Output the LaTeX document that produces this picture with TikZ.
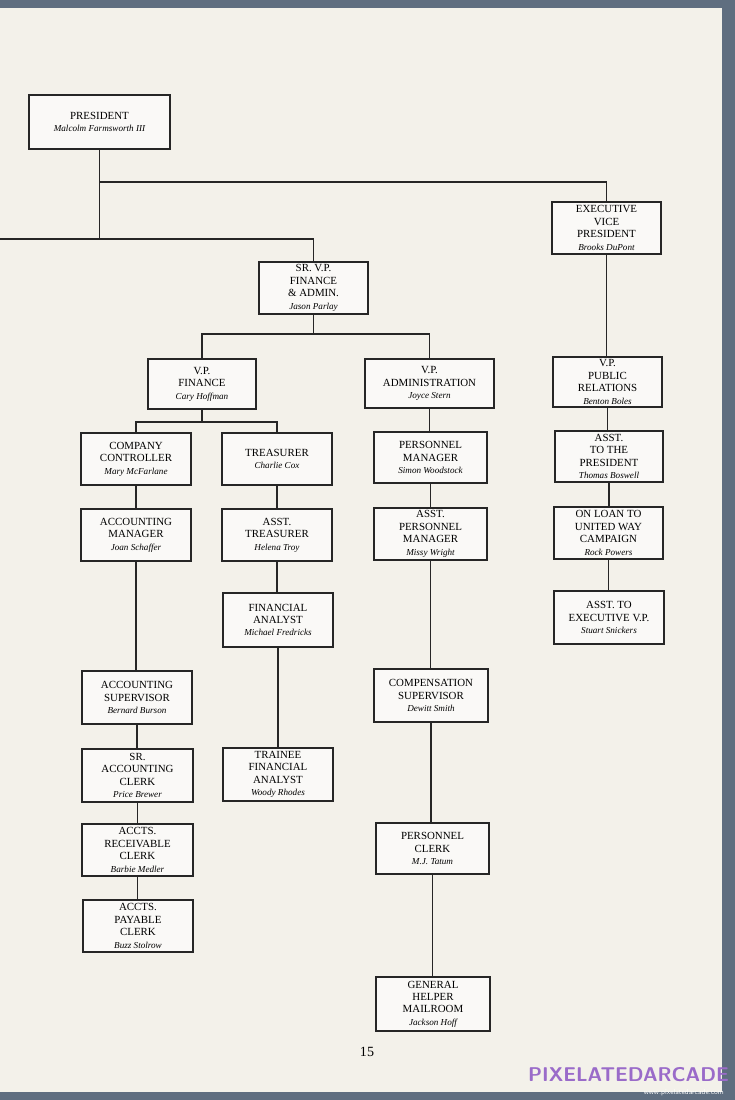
\documentclass[tikz,border=0pt]{standalone}
\usepackage{fontspec}
\setmainfont{Liberation Serif}
\newcommand{\nmf}{\fontsize{7.8}{9}\selectfont\itshape}
\begin{document}
\begin{tikzpicture}[x=0.03cm,y=-0.03cm,
  box/.style={draw=black!85,line width=1.1pt,fill=white!60!paper,align=center,inner sep=0pt,
    minimum width=#1*0.03cm,font=\fontsize{9.3}{10.6}\selectfont},
  box/.default=110,
  ln/.style={draw=black!85,line width=1pt}]
\definecolor{paper}{HTML}{F3F1EA}
\definecolor{edge}{HTML}{5F6E80}
\definecolor{wm}{HTML}{9A6BC9}
\useasboundingbox (0,0) rectangle (735,1100);
\fill[edge] (0,0) rectangle (735,1100);
\fill[paper] (0,8) rectangle (722,1092);
\newcommand{\bx}[5][110]{\node[box=#1,minimum height=#4*0.03cm] (#2) at #3 {#5};}
\newcommand{\vl}[2]{\draw[ln] (#1.south) -- (#1.south |- #2.north);}
\bx[141]{pres}{(99.5,122)}{54}{PRESIDENT\\{\nmf Malcolm Farmsworth III}}
\bx[109]{evp}{(606.5,228)}{52}{EXECUTIVE\\VICE\\PRESIDENT\\{\nmf Brooks DuPont}}
\bx[109]{svp}{(313.5,288)}{52}{SR. V.P.\\FINANCE\\\& ADMIN.\\{\nmf Jason Parlay}}
\bx[108]{vpf}{(202,384)}{50}{V.P.\\FINANCE\\{\nmf Cary Hoffman}}
\bx[129]{vpa}{(429.5,383.5)}{49}{V.P.\\ADMINISTRATION\\{\nmf Joyce Stern}}
\bx[109]{vpr}{(607.5,382)}{50}{V.P.\\PUBLIC\\RELATIONS\\{\nmf Benton Boles}}
\bx{cc}{(136,459)}{52}{COMPANY\\CONTROLLER\\{\nmf Mary McFarlane}}
\bx{tr}{(277,459)}{52}{TREASURER\\{\nmf Charlie Cox}}
\bx[113]{pm}{(430.5,457.5)}{51}{PERSONNEL\\MANAGER\\{\nmf Simon Woodstock}}
\bx[108]{atp}{(609,456.5)}{51}{ASST.\\TO THE\\PRESIDENT\\{\nmf Thomas Boswell}}
\bx{am}{(136,535)}{52}{ACCOUNTING\\MANAGER\\{\nmf Joan Schaffer}}
\bx{atr}{(277,535)}{52}{ASST.\\TREASURER\\{\nmf Helena Troy}}
\bx[113]{apm}{(430.5,534)}{52}{ASST.\\PERSONNEL\\MANAGER\\{\nmf Missy Wright}}
\bx[109]{uw}{(608.5,533)}{52}{ON LOAN TO\\UNITED WAY\\CAMPAIGN\\{\nmf Rock Powers}}
\bx{fa}{(278,620)}{54}{FINANCIAL\\ANALYST\\{\nmf Michael Fredricks}}
\bx{aev}{(609,617.5)}{53}{ASST. TO\\EXECUTIVE V.P.\\{\nmf Stuart Snickers}}
\bx{as}{(137,697.5)}{53}{ACCOUNTING\\SUPERVISOR\\{\nmf Bernard Burson}}
\bx[114]{cs}{(431,695.5)}{53}{COMPENSATION\\SUPERVISOR\\{\nmf Dewitt Smith}}
\bx{tfa}{(278,774.5)}{53}{TRAINEE\\FINANCIAL\\ANALYST\\{\nmf Woody Rhodes}}
\bx[111]{sac}{(137.5,775.5)}{53}{SR.\\ACCOUNTING\\CLERK\\{\nmf Price Brewer}}
\bx[113]{pc}{(432.5,848.5)}{51}{PERSONNEL\\CLERK\\{\nmf M.J. Tatum}}
\bx[111]{arc}{(137.5,850)}{52}{ACCTS.\\RECEIVABLE\\CLERK\\{\nmf Barbie Medler}}
\bx{apc}{(138,926)}{52}{ACCTS.\\PAYABLE\\CLERK\\{\nmf Buzz Stolrow}}
\bx[114]{gh}{(433,1004)}{54}{GENERAL\\HELPER\\MAILROOM\\{\nmf Jackson Hoff}}
\coordinate (l0) at (0,239);
\draw[ln] (pres.south) -- (pres.south |- l0);
\draw[ln] (pres.south |- 0,182) -| (evp.north);
\draw[ln] (l0) -| (svp.north);
\draw[ln] (svp.south) -- (313.5,334) (vpf.north) |- (vpa.north |- 0,334) -- (vpa.north);
\draw[ln] (vpf.south) -- (202,422) (cc.north) |- (tr.north |- 0,422) -- (tr.north);
\vl{evp}{vpr}\vl{vpr}{atp}\vl{atp}{uw}\vl{uw}{aev}
\vl{vpa}{pm}\vl{pm}{apm}\vl{apm}{cs}\vl{cs}{pc}\vl{pc}{gh}
\vl{cc}{am}\vl{am}{as}\vl{as}{sac}\vl{sac}{arc}\vl{arc}{apc}
\vl{tr}{atr}\vl{atr}{fa}\vl{fa}{tfa}
\node[font=\fontsize{12}{12}\selectfont] (pg) at (367,1052) {15};
\node[font=\sffamily\bfseries\fontsize{17}{17}\selectfont,text=wm,anchor=east] (wm1) at (733,1075) {PIXELATEDARCADE};
\node[font=\sffamily\fontsize{6}{6}\selectfont,text=white,anchor=east] (wm2) at (728,1093) {www.pixelatedarcade.com};
\end{tikzpicture}
\end{document}
